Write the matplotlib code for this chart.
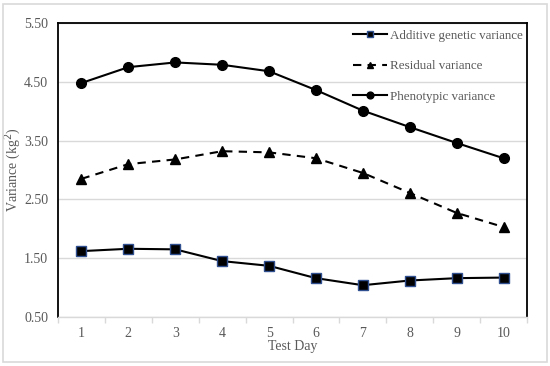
import matplotlib
matplotlib.use("Agg")
import matplotlib.pyplot as plt
from matplotlib.patches import Rectangle

days = [1, 2, 3, 4, 5, 6, 7, 8, 9, 10]
additive = [1.62, 1.66, 1.65, 1.45, 1.37, 1.16, 1.04, 1.12, 1.16, 1.17]
residual = [2.85, 3.10, 3.18, 3.32, 3.30, 3.20, 2.95, 2.61, 2.27, 2.03]
phenotypic = [4.48, 4.75, 4.83, 4.79, 4.68, 4.36, 4.01, 3.73, 3.46, 3.20]
yticks = [0.50, 1.50, 2.50, 3.50, 4.50, 5.50]
labels = ["Additive genetic variance", "Residual variance", "Phenotypic variance"]

plt.rcParams['font.family'] = ['Liberation Serif', 'DejaVu Serif']
grey = '#595959'

fig = plt.figure(figsize=(5.5, 3.66), dpi=100)
ax = fig.add_axes([0.1055, 0.134, 0.8527, 0.803])

ax.plot(days, additive, '-', color='black', lw=1.5, marker='s', ms=7,
        markerfacecolor='black', markeredgecolor='#2F4F8F', markeredgewidth=1.0,
        label=labels[0])
ax.plot(days, residual, '--', color='black', lw=1.5, marker='^', ms=7,
        markerfacecolor='black', markeredgecolor='black', dashes=(4, 3),
        label=labels[1])
ax.plot(days, phenotypic, '-', color='black', lw=1.5, marker='o', ms=7,
        markerfacecolor='black', markeredgecolor='black',
        label=labels[2])

ax.set_xlim(0.5, 10.5)
ax.set_ylim(0.5, 5.5)
ax.set_yticks(yticks)
ax.set_yticklabels([f"{v:.2f}" for v in yticks])
ax.set_xticks(days)
ax.set_xticks([d + 0.5 for d in [0] + days], minor=True)
ax.tick_params(axis='x', which='major', length=0, labelsize=10, colors=grey, pad=7)
ax.tick_params(axis='x', which='minor', length=4, color='#d9d9d9', width=1)
ax.tick_params(axis='y', length=0, labelsize=10, colors=grey, pad=7)
ax.yaxis.grid(True, color='#d9d9d9', lw=1)
ax.set_axisbelow(True)

for s in ['left', 'top', 'right']:
    ax.spines[s].set_color('black')
    ax.spines[s].set_linewidth(1.3)
ax.spines['bottom'].set_color('#d9d9d9')
ax.spines['bottom'].set_linewidth(1)

ax.set_xlabel("Test Day", fontsize=10, color=grey, labelpad=0)
ax.set_ylabel("Variance (kg$^2$)", fontsize=10, color=grey)
ax.yaxis.set_label_coords(-0.074, 0.5)

leg = ax.legend(loc='upper right', bbox_to_anchor=(1.005, 1.0), frameon=False,
                fontsize=9.4, labelcolor=grey, handlelength=2.6, handletextpad=0.2,
                labelspacing=1.4, borderaxespad=0.1, markerscale=0.7)

fig.patches.append(Rectangle((0.006, 0.01), 0.988, 0.98, transform=fig.transFigure,
                             fill=False, edgecolor='#d9d9d9', lw=1.2))

fig.savefig("out.png", dpi=100)
